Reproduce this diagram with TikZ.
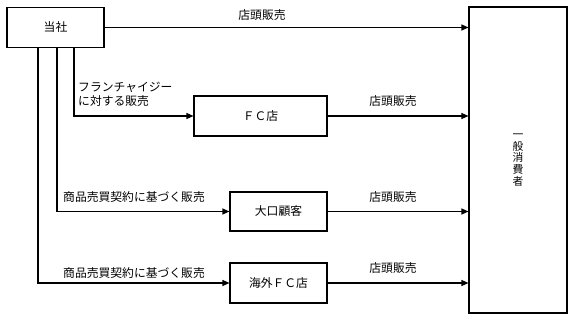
\documentclass[tikz,border=0pt]{standalone}
\usepackage{fontspec}
\setmainfont{Noto Sans CJK JP}
\usetikzlibrary{arrows.meta}
\tikzset{
  box/.style={draw, line width=1.1pt, rectangle, inner sep=0pt, font=\fontsize{11.8pt}{13pt}\selectfont},
  lbl/.style={inner sep=0pt, font=\fontsize{11.8pt}{13pt}\selectfont},
  arr/.style={line width=1.1pt, -{Triangle[length=7pt,width=6pt]}},
}
\begin{document}
\begin{tikzpicture}[x=1pt,y=-1pt]
\useasboundingbox (0,0) rectangle (572,320);
\node[box, minimum width=97pt, minimum height=40pt] (tosha) at (55.5,27.5) {当社};
\node[box, minimum width=133pt, minimum height=40pt] (fc) at (260.5,116) {ＦＣ店};
\node[box, minimum width=97pt, minimum height=39pt] (oguchi) at (278.5,211.5) {大口顧客};
\node[box, minimum width=97pt, minimum height=40pt] (kaigai) at (278.5,283) {海外ＦＣ店};
\node[box, minimum width=98pt, minimum height=306pt, align=center, font=\fontsize{10.8pt}{11.8pt}\selectfont] (cons) at (518,160) {一\\般\\消\\費\\者};

\coordinate (s1) at ([xshift=18.5pt]tosha.south);
\coordinate (s2) at ([xshift=1.5pt]tosha.south);
\coordinate (s3) at ([xshift=-17.5pt]tosha.south);

\draw[arr] (tosha.east) -- (tosha.east -| cons.west);
\draw[arr] (s1) |- (fc.west);
\draw[arr] (s2) |- (oguchi.west);
\draw[arr] (s3) |- (kaigai.west);
\draw[arr] (fc.east) -- (fc.east -| cons.west);
\draw[arr] (oguchi.east) -- (oguchi.east -| cons.west);
\draw[arr] (kaigai.east) -- (kaigai.east -| cons.west);

\node[lbl] (l0) at (262,15) {店頭販売};
\node[lbl, anchor=west, align=left, font=\fontsize{11.8pt}{13.5pt}\selectfont] (l1) at (78,94.5) {フランチャイジー\\に対する販売};
\node[lbl] (l2) at (393,101) {店頭販売};
\node[lbl] (l3) at (134,197) {商品売買契約に基づく販売};
\node[lbl] (l4) at (393,197) {店頭販売};
\node[lbl] (l5) at (134,273) {商品売買契約に基づく販売};
\node[lbl] (l6) at (393,268) {店頭販売};
\end{tikzpicture}
\end{document}
